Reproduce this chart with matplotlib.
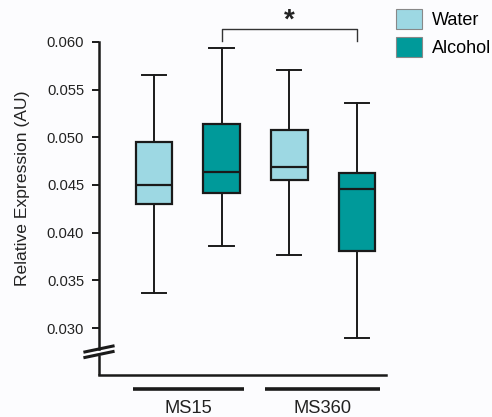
import numpy as np
import matplotlib.pyplot as plt
from matplotlib.patches import Patch

plt.rcParams['font.family'] = ['Liberation Sans', 'DejaVu Sans']

# box statistics (Water / Alcohol for MS15 and MS360)
labels = ['MS15 Water', 'MS15 Alcohol', 'MS360 Water', 'MS360 Alcohol']
whis_lo = [0.0337, 0.0386, 0.0377, 0.0290]
q1 = [0.0430, 0.0442, 0.0455, 0.0381]
med = [0.0450, 0.0464, 0.0469, 0.0446]
q3 = [0.0495, 0.0514, 0.0508, 0.0463]
whis_hi = [0.0565, 0.0594, 0.0571, 0.0536]
groups = ['MS15', 'MS360']
conditions = ['Water', 'Alcohol']

water_col = '#9dd8e3'
alcohol_col = '#009a9a'
colors = [water_col, alcohol_col, water_col, alcohol_col]

fig = plt.figure(figsize=(4.92, 4.17), dpi=100)
fig.patch.set_facecolor('#fcfcfe')
ax = fig.add_axes([0.2006, 0.1007, 0.584, 0.7986])
ax.set_facecolor('#fcfcfe')

stats = []
for i in range(4):
    stats.append(dict(label=labels[i], whislo=whis_lo[i], q1=q1[i], med=med[i],
                      q3=q3[i], whishi=whis_hi[i], fliers=[]))

pos = np.arange(1, 5)
bp = ax.bxp(stats, positions=pos, widths=0.54, capwidths=0.36, patch_artist=True,
            showfliers=False,
            boxprops=dict(linewidth=1.6, edgecolor='#1a1a1a'),
            medianprops=dict(color='#1a1a1a', linewidth=1.6),
            whiskerprops=dict(color='#1a1a1a', linewidth=1.4),
            capprops=dict(color='#1a1a1a', linewidth=1.4))
for patch, c in zip(bp['boxes'], colors):
    patch.set_facecolor(c)

ax.set_xlim(0.183, 4.43)
ax.set_ylim(0.02507, 0.060)
ax.set_yticks([0.030, 0.035, 0.040, 0.045, 0.050, 0.055, 0.060])
ax.set_yticklabels(['0.030', '0.035', '0.040', '0.045', '0.050', '0.055', '0.060'])
ax.tick_params(axis='y', labelsize=10.6, length=5, width=1.4, color='#1a1a1a', pad=5.5,
               labelcolor='#222222')
ax.set_xticks([])
ax.set_ylabel('Relative Expression (AU)', fontsize=12.6, color='#222222')
ax.yaxis.set_label_coords(-0.24, 0.56)

for s in ['top', 'right']:
    ax.spines[s].set_visible(False)
ax.spines['bottom'].set_linewidth(1.8)
ax.spines['left'].set_linewidth(1.8)
ax.spines['bottom'].set_color('#1a1a1a')
ax.spines['left'].set_color('#1a1a1a')
ax.spines['left'].set_bounds(0.0278, 0.060)

# lower piece of the y axis and the break marks
yt = ax.get_yaxis_transform()
ax.plot([0, 0], [0.02507, 0.0272], transform=yt, color='#1a1a1a', lw=1.8,
        clip_on=False, solid_capstyle='butt')
for yb in [0.0278, 0.02722]:
    ax.plot([-0.048, 0.05], [yb - 0.00031, yb + 0.00031], transform=yt,
            color='#1a1a1a', lw=2.2, clip_on=False)

# significance bracket
ax.plot([2, 2, 4, 4], [0.0601, 0.06135, 0.06135, 0.0601], color='#333333', lw=1.0,
        clip_on=False)
ax.text(3, 0.0622, '*', ha='center', va='center', fontsize=20, fontweight='bold',
        color='#222222')

# group lines and labels under the axis
xt = ax.get_xaxis_transform()
group_spans = [(0.685, 2.335), (2.64, 4.34)]
for name, (a, b) in zip(groups, group_spans):
    ax.plot([a, b], [-0.042, -0.042], transform=xt, color='#1a1a1a', lw=2.6,
            clip_on=False, solid_capstyle='butt')
    ax.text((a + b) / 2, -0.075, name, transform=xt, ha='center', va='top',
            fontsize=13.2, color='#222222')

handles = [Patch(facecolor=water_col, edgecolor='#888888', lw=0.8),
           Patch(facecolor=alcohol_col, edgecolor='#888888', lw=0.8)]
fig.legend(handles, conditions, loc='upper left', bbox_to_anchor=(396 / 492, 1 - 9 / 417),
           frameon=False, fontsize=13, handlelength=1.45, handleheight=1.3,
           handletextpad=0.55, labelspacing=0.45, borderpad=0, borderaxespad=0)

fig.savefig('out.png', dpi=100, facecolor=fig.get_facecolor())
